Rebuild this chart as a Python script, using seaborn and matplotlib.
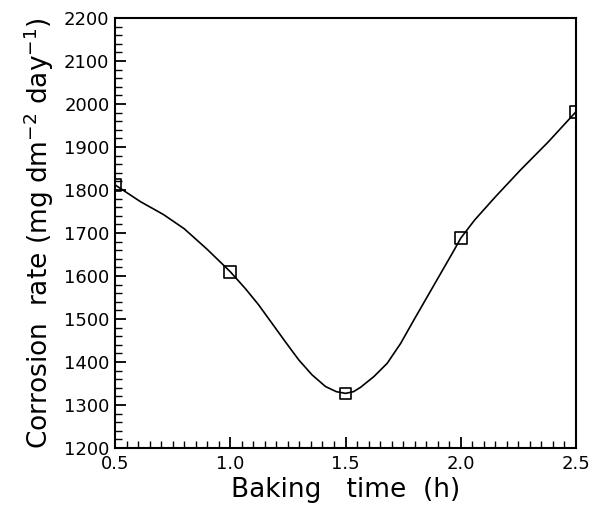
import numpy as np
import matplotlib
matplotlib.use("Agg")
import matplotlib.pyplot as plt
import seaborn as sns
from matplotlib.ticker import MultipleLocator

# measured points (baking time in h, corrosion rate)
baking_time = [0.5, 1.0, 1.5, 2.0, 2.5]
corrosion_rate = [1812, 1610, 1327, 1688, 1982]

# smooth curve
curve_time = [0.5, 0.61, 0.71, 0.8, 0.9, 1.0, 1.065, 1.123, 1.181, 1.239,
              1.297, 1.355, 1.413, 1.46, 1.5, 1.535, 1.565, 1.623, 1.681,
              1.739, 1.797, 1.855, 1.913, 1.971, 2.0, 2.06, 2.15, 2.26, 2.38,
              2.5]
curve_rate = [1812, 1773, 1743, 1710, 1662, 1610, 1571, 1533, 1490, 1447,
              1405, 1370, 1343, 1331, 1327, 1331, 1341, 1366, 1397,
              1443, 1498, 1552, 1606, 1660, 1688, 1730, 1784, 1847, 1912,
              1982]

sns.set_style("ticks")
plt.rcParams['font.family'] = ['DejaVu Sans']
plt.rcParams['text.color'] = 'black'
plt.rcParams['axes.labelcolor'] = 'black'

fig = plt.figure(figsize=(5.94, 5.07), dpi=100)
ax = fig.add_axes([0.1936, 0.1164, 0.7761, 0.8481])

sns.lineplot(x=curve_time, y=curve_rate, ax=ax, color="black", linewidth=1.2,
             sort=False, estimator=None)
sns.scatterplot(x=baking_time, y=corrosion_rate, ax=ax, marker="s", s=70,
                facecolor="none", edgecolor="black", linewidth=1.2, zorder=3)

ax.set_xlim(0.5, 2.5)
ax.set_ylim(1200, 2200)
ax.xaxis.set_major_locator(MultipleLocator(0.5))
ax.xaxis.set_minor_locator(MultipleLocator(0.05))
ax.yaxis.set_major_locator(MultipleLocator(100))
ax.yaxis.set_minor_locator(MultipleLocator(20))
ax.xaxis.set_major_formatter(plt.FormatStrFormatter("%.1f"))

ax.tick_params(which="both", direction="in", top=False, right=False,
               labelsize=13, colors="black")
ax.tick_params(which="major", length=8, width=1.3)
ax.tick_params(axis="x", which="major", pad=5)
ax.tick_params(axis="y", which="major", pad=4)
ax.tick_params(which="minor", length=5, width=1.0)
for sp in ax.spines.values():
    sp.set_linewidth(1.5)
    sp.set_color("black")
    sp.set_visible(True)

ax.set_xlabel("Baking   time  (h)", fontsize=19, labelpad=3)
ax.set_ylabel("Corrosion  rate (mg dm$^{-2}$ day$^{-1}$)", fontsize=19, labelpad=6)

fig.savefig("out.png", dpi=100)
